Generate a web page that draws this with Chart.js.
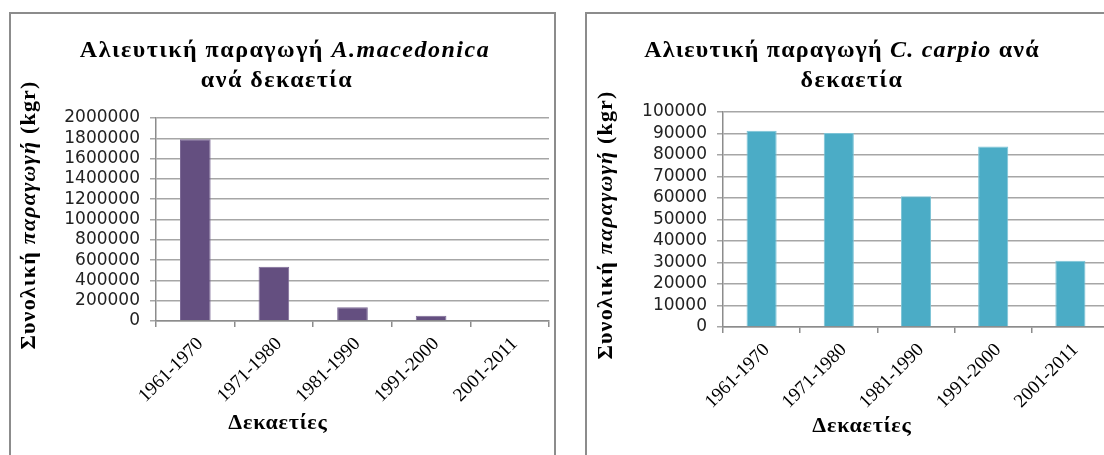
<!DOCTYPE html>
<html>
<head>
    <meta charset="utf-8"/>
    <title>Αλιευτική παραγωγή</title>
    <script src="https://cdn.jsdelivr.net/npm/chart.js"></script>
    <style>
        html, body {
            margin: 0;
            padding: 0;
            background: #fff;
            overflow: hidden;
        }
        .panel {
            position: absolute;
            top: 12px;
            height: 460px;
            border: 2px solid #8c8c8c;
            box-sizing: border-box;
            background: #fff;
        }
        #panel-left { left: 9px; width: 547px; }
        #panel-right { left: 585px; width: 560px; }
        .panel canvas { display: block; }
    </style>
</head>
<body>
    <div class="panel" id="panel-left">
        <canvas id="chartMacedonica" width="543" height="456"></canvas>
    </div>
    <div class="panel" id="panel-right">
        <canvas id="chartCarpio" width="556" height="456"></canvas>
    </div>

    <script>
        // Δεκαετίες
        const decades = ['1961-1970', '1971-1980', '1981-1990', '1991-2000', '2001-2011'];

        // Συνολική παραγωγή (kgr) ανά δεκαετία
        const macedonicaKg = [1790000, 535000, 135000, 52000, 0];
        const carpioKg = [91300, 90200, 60800, 84000, 30800];

        // Άξονες y
        const macedonicaAxis = { max: 2000000, step: 200000 };
        const carpioAxis = { max: 100000, step: 10000 };

        const serif = '"Liberation Serif", "Times New Roman", serif';
        const sans = '"DejaVu Sans", Verdana, sans-serif';

        // Γράφει κείμενο με τμήματα διαφορετικής γραμματοσειράς (π.χ. πλάγια ονόματα ειδών)
        const textRuns = {
            id: 'textRuns',
            afterDraw(chart, args, opts) {
                const ctx = chart.ctx;
                (opts.items || []).forEach(item => {
                    ctx.save();
                    ctx.translate(item.x, item.y);
                    if (item.rotate) ctx.rotate(item.rotate);
                    ctx.fillStyle = '#000';
                    ctx.textAlign = 'left';
                    ctx.textBaseline = item.baseline || 'alphabetic';
                    ctx.letterSpacing = (item.spacing || 0) + 'px';
                    let total = 0;
                    item.runs.forEach(r => {
                        ctx.font = r.font;
                        total += ctx.measureText(r.text).width;
                    });
                    let x = -total / 2;
                    item.runs.forEach(r => {
                        ctx.font = r.font;
                        ctx.fillText(r.text, x, 0);
                        x += ctx.measureText(r.text).width;
                    });
                    ctx.restore();
                });
            }
        };

        const bold = 'bold 24px ' + serif;
        const boldItalic = 'italic bold 24px ' + serif;
        const axisBold = 'bold 22px ' + serif;
        const axisItalic = 'italic bold 22px ' + serif;

        function yTitle(x, y) {
            return {
                x: x, y: y, rotate: -Math.PI / 2, baseline: 'middle', spacing: 1.2,
                runs: [
                    { text: 'Συνολική ', font: axisBold },
                    { text: 'παραγωγή', font: axisItalic },
                    { text: ' (kgr)', font: axisBold }
                ]
            };
        }

        function xTitle(x, y) {
            return { x: x, y: y, spacing: 0.8, runs: [{ text: 'Δεκαετίες', font: axisBold }] };
        }

        function makeChart(id, values, color, edge, axis, layout, titles) {
            const ctx = document.getElementById(id).getContext('2d');
            return new Chart(ctx, {
                type: 'bar',
                data: {
                    labels: decades,
                    datasets: [{
                        data: values,
                        backgroundColor: color,
                        borderColor: edge,
                        borderWidth: 1,
                        categoryPercentage: 1,
                        barPercentage: 0.39
                    }]
                },
                options: {
                    responsive: false,
                    animation: false,
                    devicePixelRatio: 1,
                    layout: { padding: layout.padding },
                    plugins: {
                        legend: { display: false },
                        tooltip: { enabled: false },
                        title: { display: false },
                        textRuns: { items: titles }
                    },
                    scales: {
                        x: {
                            afterFit: s => { s.height = layout.xHeight; },
                            grid: {
                                drawOnChartArea: false,
                                drawTicks: true,
                                tickLength: 6,
                                color: '#8c8c8c',
                                lineWidth: 1.5
                            },
                            border: { color: '#8c8c8c', width: 1.5 },
                            ticks: {
                                minRotation: 45,
                                maxRotation: 45,
                                padding: 6,
                                labelOffset: 5,
                                color: '#000',
                                font: { family: serif, size: 19 }
                            }
                        },
                        y: {
                            min: 0,
                            max: axis.max,
                            afterFit: s => { s.width = layout.yWidth; },
                            grid: {
                                color: '#a6a6a6',
                                lineWidth: 1.5,
                                tickLength: 6
                            },
                            border: { color: '#8c8c8c', width: 1.5 },
                            ticks: {
                                stepSize: axis.step,
                                autoSkip: false,
                                padding: 10,
                                color: '#222',
                                font: { family: sans, size: 17 },
                                callback: v => String(v)
                            }
                        }
                    }
                },
                plugins: [textRuns]
            });
        }

        makeChart('chartMacedonica', macedonicaKg, '#644f80', '#7d6a96', macedonicaAxis,
            { padding: { top: 104, left: 0, right: 5, bottom: 0 }, yWidth: 145, xHeight: 149 },
            [
                { x: 274, y: 43, spacing: 1.5, runs: [
                    { text: 'Αλιευτική παραγωγή ', font: bold },
                    { text: 'A.macedonica', font: boldItalic }
                ] },
                { x: 266, y: 73, spacing: 1.5, runs: [{ text: 'ανά δεκαετία', font: bold }] },
                yTitle(18, 201),
                xTitle(267, 415)
            ]);

        makeChart('chartCarpio', carpioKg, '#4bacc6', '#7cc3d6', carpioAxis,
            { padding: { top: 98, left: 0, right: 34, bottom: 0 }, yWidth: 136, xHeight: 143 },
            [
                { x: 255, y: 43, spacing: 1.2, runs: [
                    { text: 'Αλιευτική παραγωγή ', font: bold },
                    { text: 'C. carpio', font: boldItalic },
                    { text: ' ανά', font: bold }
                ] },
                { x: 265, y: 73, spacing: 1.5, runs: [{ text: 'δεκαετία', font: bold }] },
                yTitle(19, 211),
                xTitle(275, 418)
            ]);
    </script>
</body>
</html>
